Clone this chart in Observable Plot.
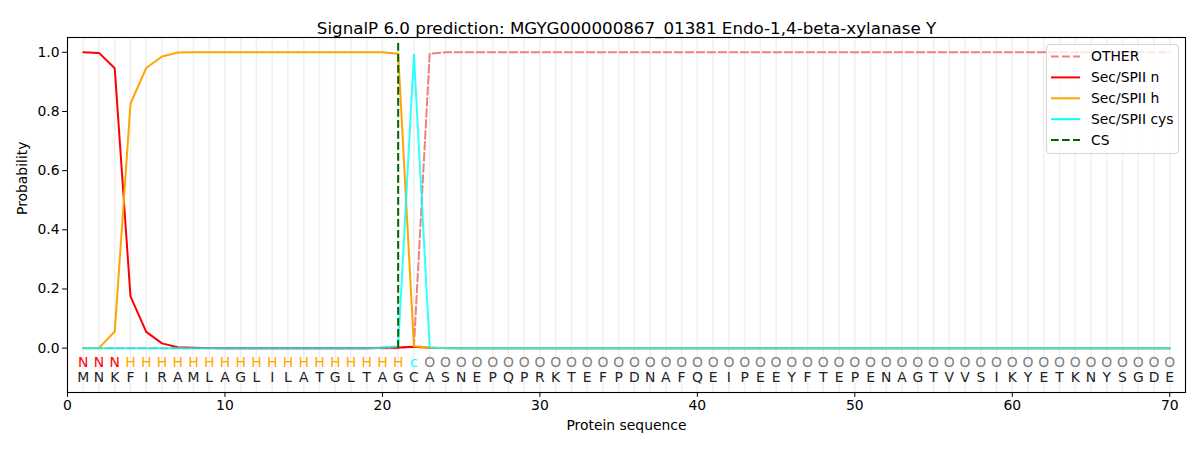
<!DOCTYPE html>
<html>
<head>
<meta charset="utf-8">
<script src="https://cdn.jsdelivr.net/npm/d3@7"></script>
<script src="https://cdn.jsdelivr.net/npm/@observablehq/plot@0.6"></script>
<style>
  body { margin: 0; background: #fff; font-family: "DejaVu Sans", sans-serif; }
  #wrap { position: relative; width: 1200px; height: 450px; }
  #legend { position: absolute; left: 1046px; top: 44px; width: 131px; height: 108px;
    border: 1px solid #d4d4d4; border-radius: 4px; background: rgba(255,255,255,0.8); }
  #legend svg { position: absolute; left: 0; top: 0; }
</style>
</head>
<body>
<div id="wrap"></div>
<script>
const titleText = "SignalP 6.0 prediction: MGYG000000867_01381 Endo-1,4-beta-xylanase Y";
const sequence = "MNKFIRAMLAGLILATGLTAGCASNEPQPRKTEFPDNAFQEIPEEYFTEPENAGTVVSIKYETKNYSGDE".split("");
const regionLabels = ("NNN" + "HHHHHHHHHHHHHHHHHH" + "c" +
  "OOOOOOOOOOOOOOOOOOOOOOOOOOOOOOOOOOOOOOOOOOOOOOOO").split("");

const otherP = [
  0,0,0,0,0,0,0,0,0,0,
  0,0,0,0,0,0,0,0,0,0,
  0,0.005,0.995,1,1,1,1,1,1,1,
  1,1,1,1,1,1,1,1,1,1,
  1,1,1,1,1,1,1,1,1,1,
  1,1,1,1,1,1,1,1,1,1,
  1,1,1,1,1,1,1,1,1,1
];
const nP = [
  1.0,0.998,0.946,0.175,0.055,0.016,0.003,0.001,0,0,
  0,0,0,0,0,0,0,0,0,0.001,
  0.002,0.005,0.001,0,0,0,0,0,0,0,
  0,0,0,0,0,0,0,0,0,0,
  0,0,0,0,0,0,0,0,0,0,
  0,0,0,0,0,0,0,0,0,0,
  0,0,0,0,0,0,0,0,0,0
];
const hP = [
  0,0.001,0.056,0.826,0.947,0.986,0.999,1,1,1,
  1,1,1,1,1,1,1,1,1,1,
  0.995,0.006,0.002,0,0,0,0,0,0,0,
  0,0,0,0,0,0,0,0,0,0,
  0,0,0,0,0,0,0,0,0,0,
  0,0,0,0,0,0,0,0,0,0,
  0,0,0,0,0,0,0,0,0,0
];
const cysP = [
  0,0,0,0,0,0,0,0,0,0,
  0,0,0,0,0,0,0,0,0,0.001,
  0.006,0.992,0.002,0,0,0,0,0,0,0,
  0,0,0,0,0,0,0,0,0,0,
  0,0,0,0,0,0,0,0,0,0,
  0,0,0,0,0,0,0,0,0,0,
  0,0,0,0,0,0,0,0,0,0
];
const csPosition = 21;
const csTop = 1.04;
const xTicks = [0, 10, 20, 30, 40, 50, 60, 70];
const yTicks = [0, 0.2, 0.4, 0.6, 0.8, 1.0];

const labelColor = {N: "red", H: "orange", c: "cyan", O: "gray"};
const rows = sequence.map((aa, i) => ({
  pos: i + 1, aa, region: regionLabels[i],
  other: otherP[i], n: nP[i], h: hP[i], cys: cysP[i]
}));

const font = "DejaVu Sans";
const dash = "7.7,3.3";

const chart = Plot.plot({
  width: 1200,
  height: 450,
  marginLeft: 67,
  marginRight: 15,
  marginTop: 37,
  marginBottom: 58,
  style: {fontFamily: font, fontSize: "13.9px", color: "black", background: "white"},
  x: {domain: [0, 71]},
  y: {domain: [-0.15, 1.05]},
  marks: [
    Plot.ruleX(rows, {x: "pos", stroke: "#f0f0f0", strokeWidth: 1.5}),
    Plot.line(rows, {x: "pos", y: "other", stroke: "lightcoral", strokeWidth: 2, strokeDasharray: dash}),
    Plot.line(rows, {x: "pos", y: "n", stroke: "red", strokeWidth: 2}),
    Plot.line(rows, {x: "pos", y: "h", stroke: "orange", strokeWidth: 2}),
    Plot.line(rows, {x: "pos", y: "cys", stroke: "cyan", strokeWidth: 2, strokeOpacity: 0.8}),
    Plot.ruleX([csPosition], {x: d => d, y1: 0, y2: csTop, stroke: "darkgreen", strokeWidth: 2, strokeDasharray: dash}),
    Plot.text(rows, {x: "pos", y: -0.05, text: "region", fill: d => labelColor[d.region], fontSize: 13.9}),
    Plot.text(rows, {x: "pos", y: -0.1, text: "aa", fill: "#222", fontSize: 13.9}),
    Plot.frame({stroke: "black", strokeWidth: 1.1}),
    Plot.axisX({ticks: xTicks, tickSize: 4.9, tickPadding: 3, tickFormat: d3.format("d"), label: null, fontSize: 13.9}),
    Plot.axisY({ticks: yTicks, tickSize: 4.9, tickPadding: 3, tickFormat: d3.format(".1f"), label: null, fontSize: 13.9}),
    Plot.text([titleText], {text: d => d, frameAnchor: "top", dy: -15, fontSize: 16.7, fill: "black"}),
    Plot.text(["Protein sequence"], {text: d => d, frameAnchor: "bottom", dy: 37, fontSize: 13.9, fill: "black"}),
    Plot.text(["Probability"], {text: d => d, frameAnchor: "left", dx: -45, rotate: -90, fontSize: 13.9, fill: "black"})
  ]
});

const wrap = document.getElementById("wrap");
wrap.appendChild(chart);

// Legend
const legendItems = [
  {name: "OTHER", color: "lightcoral", dash: dash},
  {name: "Sec/SPII n", color: "red", dash: null},
  {name: "Sec/SPII h", color: "orange", dash: null},
  {name: "Sec/SPII cys", color: "cyan", dash: null},
  {name: "CS", color: "darkgreen", dash: dash}
];
const legend = document.createElement("div");
legend.id = "legend";
const ns = "http://www.w3.org/2000/svg";
const lsvg = document.createElementNS(ns, "svg");
lsvg.setAttribute("width", 131);
lsvg.setAttribute("height", 108);
legendItems.forEach((item, i) => {
  const yy = 11.5 + i * 20.9;
  const ln = document.createElementNS(ns, "line");
  ln.setAttribute("x1", 4); ln.setAttribute("x2", 33);
  ln.setAttribute("y1", yy); ln.setAttribute("y2", yy);
  ln.setAttribute("stroke", item.color);
  ln.setAttribute("stroke-width", 2);
  if (item.dash) ln.setAttribute("stroke-dasharray", item.dash);
  lsvg.appendChild(ln);
  const tx = document.createElementNS(ns, "text");
  tx.setAttribute("x", 44); tx.setAttribute("y", yy);
  tx.setAttribute("dy", "0.35em");
  tx.setAttribute("font-family", font);
  tx.setAttribute("font-size", "13.9px");
  tx.textContent = item.name;
  lsvg.appendChild(tx);
});
legend.appendChild(lsvg);
wrap.appendChild(legend);
</script>
</body>
</html>
